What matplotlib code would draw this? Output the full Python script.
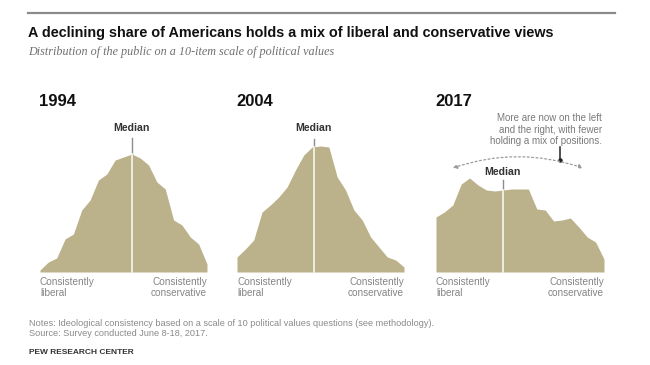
import numpy as np
import matplotlib
matplotlib.use("Agg")
import matplotlib.pyplot as plt

plt.rcParams["font.family"] = ["Liberation Sans", "DejaVu Sans"]

# ---- data (relative share at each point of the 10-item scale) ----
scale_pos = list(range(21))
years = ["1994", "2004", "2017"]
share_1994 = [2, 10, 14, 33, 38, 62, 72, 92, 98, 112, 115, 118, 114, 107, 90, 83, 52, 47, 35, 28, 8]
share_2004 = [15, 23, 32, 60, 67, 75, 85, 102, 117, 125, 126, 125, 95, 82, 62, 52, 35, 25, 15, 12, 5]
share_2017 = [55, 60, 67, 88, 94, 87, 82, 81, 82, 83, 83, 83, 63, 62, 51, 52, 54, 45, 35, 30, 13]
medians = [11.0, 9.2, 7.95]
shares = [share_1994, share_2004, share_2017]

FILL = "#bbb28b"
W, H = 650, 365
fig = plt.figure(figsize=(W / 100, H / 100), dpi=100)
fig.patch.set_facecolor("white")

def fx(px):
    return px / W

def fy(py):
    return 1 - py / H

# top rule
fig.add_artist(plt.Line2D([fx(28), fx(615)], [fy(13), fy(13)], color="#8a8a8a", lw=1.6))
fig.text(fx(28), fy(33), "A declining share of Americans holds a mix of liberal and conservative views",
         fontsize=10.4, fontweight="bold", color="#111111", va="center", ha="left")
fig.text(fx(28), fy(52), "Distribution of the public on a 10-item scale of political values",
         fontsize=8.7, style="italic", family="Liberation Serif", color="#6f6f6f", va="center", ha="left")

panel_left = [40, 237, 436]
panel_width = [167, 167, 168]
baseline = 272
ymax = 130
label_y = [144, 144, 100]
line_top = [134, 133, 92]

axes = []
for i in range(3):
    ax = fig.add_axes([fx(panel_left[i]), fy(baseline), panel_width[i] / W, ymax / H])
    ax.set_xlim(0, 20)
    ax.set_ylim(0, ymax)
    ax.axis("off")
    ax.fill_between(scale_pos, 0, shares[i], color=FILL, lw=0)
    m = medians[i]
    hm = np.interp(m, scale_pos, shares[i])
    ax.plot([m, m], [hm, line_top[i]], color="#8c8c8c", lw=1, clip_on=False)
    ax.plot([m, m], [0, hm], color="#f3f1e8", lw=1.3, clip_on=False)
    ax.text(m, label_y[i], "Median", ha="center", va="center", fontsize=7.6,
            fontweight="bold", color="#333333", clip_on=False)
    # year label
    fig.text(fx(panel_left[i] - 1), fy(101), years[i], fontsize=12, fontweight="bold",
             color="#111111", ha="left", va="center")
    # axis end labels
    fig.text(fx(panel_left[i]), fy(277), "Consistently\nliberal", fontsize=7.2, color="#858585",
             ha="left", va="top", linespacing=1.1)
    fig.text(fx(panel_left[i] + panel_width[i]), fy(277), "Consistently\nconservative", fontsize=7.2,
             color="#858585", ha="right", va="top", linespacing=1.1)
    axes.append(ax)

ax3 = axes[2]
# dotted double-headed arc
ax3.annotate("", xy=(17.5, 104), xytext=(2.0, 104), xycoords="data", textcoords="data",
             annotation_clip=False,
             arrowprops=dict(arrowstyle="<|-|>", linestyle=(0, (1.5, 2)), color="#9a9a9a", lw=0.9,
                             connectionstyle="arc3,rad=-0.17", mutation_scale=6, shrinkA=0, shrinkB=0))
# pointer from annotation text
ax3.plot([14.76, 14.76], [112, 125], color="#222222", lw=1.1, clip_on=False)
ax3.plot([14.76], [112], "o", color="#222222", ms=2.2, clip_on=False)
fig.text(fx(602), fy(113), "More are now on the left\nand the right, with fewer\nholding a mix of positions.",
         fontsize=7, color="#7a7a7a", ha="right", va="top", linespacing=1.2)

# footer
fig.text(fx(29), fy(323), "Notes: Ideological consistency based on a scale of 10 political values questions (see methodology).",
         fontsize=6.6, color="#8a8a8a", ha="left", va="center")
fig.text(fx(29), fy(334), "Source: Survey conducted June 8-18, 2017.",
         fontsize=6.6, color="#8a8a8a", ha="left", va="center")
fig.text(fx(29), fy(352), "PEW RESEARCH CENTER", fontsize=6, fontweight="bold",
         color="#333333", ha="left", va="center")

fig.savefig("out.png", dpi=100, facecolor="white")
